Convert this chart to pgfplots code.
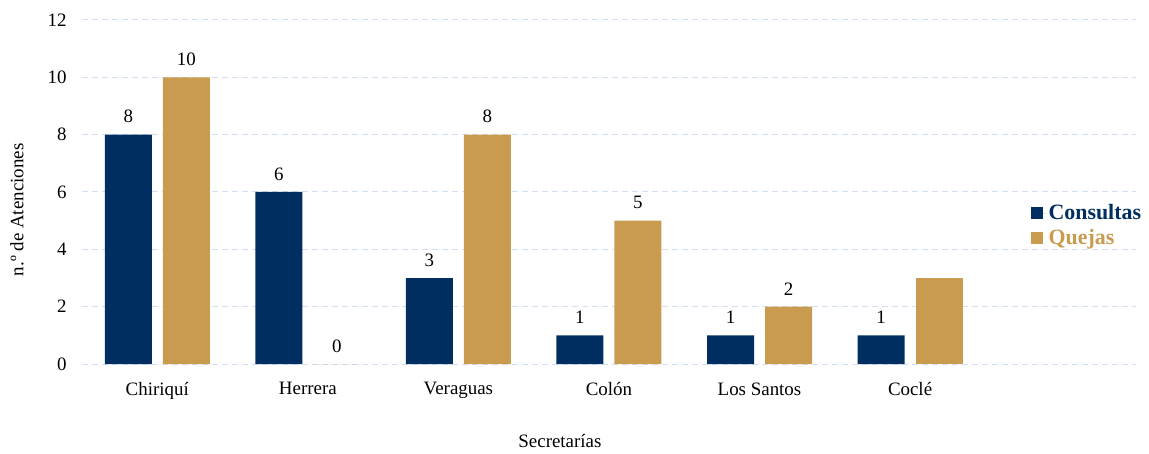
\documentclass[border=0pt]{standalone}
\usepackage{fontspec}
\setmainfont{Liberation Serif}
\usepackage{pgfplots}
\pgfplotsset{compat=1.18}
\definecolor{navy}{RGB}{0,46,96}
\definecolor{gold}{RGB}{200,155,78}
\definecolor{gridc}{RGB}{210,222,243}
\begin{document}
\begin{tikzpicture}
\begin{axis}[
    at={(0,0)}, anchor=south west,
    scale only axis,
    width=1054bp, height=344bp,
    xmin=-0.5, xmax=6.5,
    ymin=0, ymax=12,
    ytick={0,2,...,12},
    xtick={0,...,5},
    xticklabels={Chiriquí, Herrera, Veraguas, Colón, Los Santos, Coclé},
    axis line style={draw=none},
    major tick length=0pt,
    ymajorgrids,
    grid style={gridc, line width=1bp, dash pattern=on 6bp off 4bp},
    tick label style={font=\fontsize{19}{22}\selectfont, black},
    /pgf/number format/assume math mode=true,
    yticklabel style={xshift=-12bp},
    xticklabel style={yshift=-15bp},
    xlabel={Secretarías},
    ylabel={n.º de Atenciones},
    every axis x label/.style={at={(axis description cs:0.4535,-0.224)}, anchor=center,
        font=\fontsize{19}{22}\selectfont},
    every axis y label/.style={at={(axis description cs:-0.0617,0.448)}, rotate=90, anchor=center,
        font=\fontsize{19}{22}\selectfont},
    ybar, bar width=47bp,
    nodes near coords,
    every node near coord/.append style={font=\fontsize{19}{22}\selectfont, black, anchor=south, yshift=8bp},
    legend style={at={(axis description cs:0.897,0.403)}, anchor=west, draw=none, fill=none,
        font=\fontsize{22}{28}\selectfont\bfseries, row sep=4bp, cells={anchor=west}},
    legend image code/.code={\fill[#1] (0bp,-6bp) rectangle (12bp,6bp);
        \path (0bp,0bp) -- (16bp,0bp);},
]
\addplot[fill=navy, draw=none, bar shift=-29bp] coordinates {
    (0,8) (1,6) (2,3) (3,1) (4,1) (5,1)
};
\addplot[fill=gold, draw=none, bar shift=29bp] coordinates {
    (0,10) (1,0) (2,8) (3,5) (4,2)
};
\addplot[fill=gold, draw=none, bar shift=29bp, nodes near coords=, forget plot] coordinates {
    (5,3)
};
\legend{\textcolor{navy}{Consultas}, \textcolor{gold}{Quejas}}
\end{axis}
\pgfresetboundingbox
\useasboundingbox (-82bp,-90bp) rectangle (1067bp,364bp);
\end{tikzpicture}
\end{document}
